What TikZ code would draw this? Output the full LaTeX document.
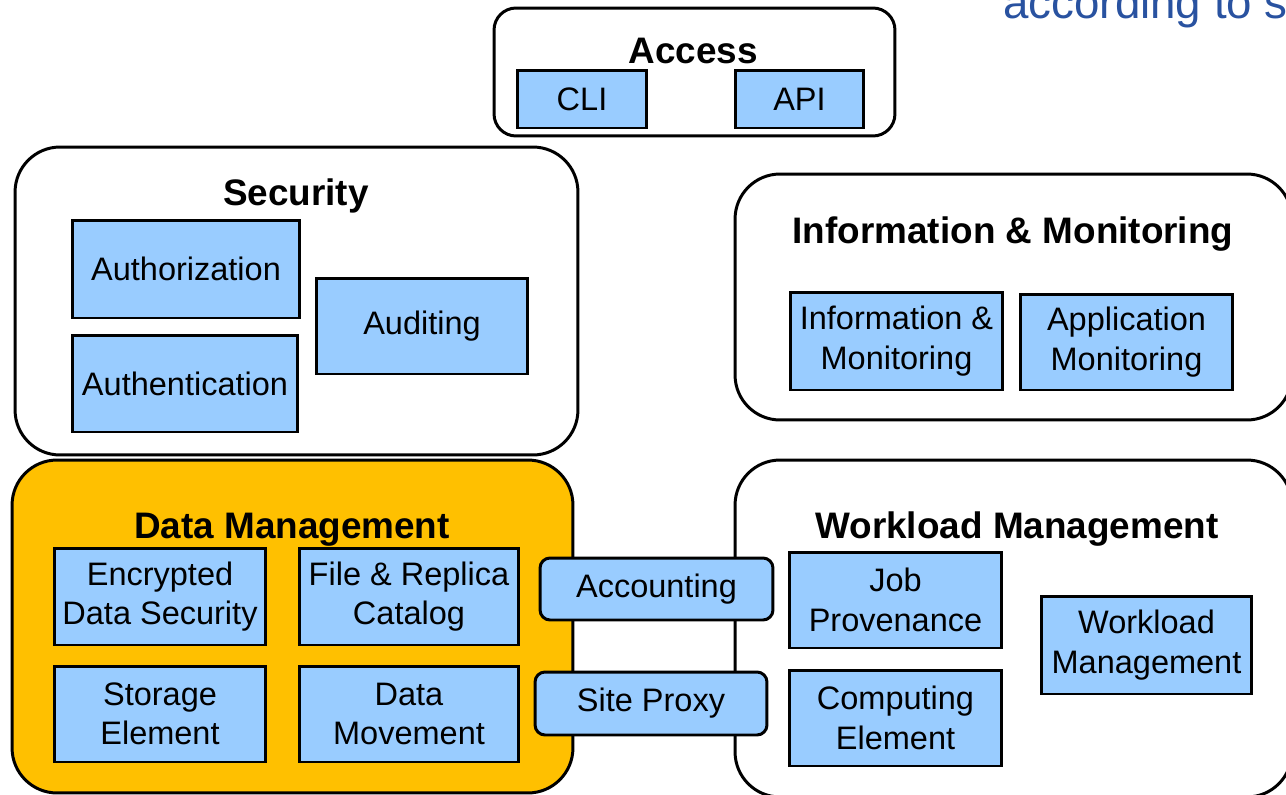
\documentclass[tikz,border=0pt]{standalone}
\usepackage{fontspec}
\setmainfont{Liberation Sans}
\usetikzlibrary{positioning}
\definecolor{boxblue}{RGB}{153,204,255}
\definecolor{dmorange}{RGB}{255,192,0}
\definecolor{slideblue}{RGB}{41,82,160}

\begin{document}
\begin{tikzpicture}[x=0.02cm, y=-0.02cm]
    \tikzstyle{group} = [draw, line width=1.7pt, rounded corners=0.9cm, fill=white]
    \tikzstyle{grouptitle} = [anchor=base, inner sep=0, font=\fontsize{21}{25}\selectfont\bfseries]
    \tikzstyle{comp} = [draw, line width=1.7pt, fill=boxblue, inner sep=0, align=center, font=\fontsize{18.5}{22.5}\selectfont]
    \tikzstyle{link} = [comp, rounded corners=0.2cm]
    \useasboundingbox (0, 0) rectangle (1286, 795);
    \clip (0, 0) rectangle (1286, 795);

    \node[slideblue, anchor=base west, inner sep=0, font=\fontsize{26}{30}\selectfont] (slide) at (1003, 18) {according to s};

    \node[group, rounded corners=0.44cm, minimum width=8.02cm, minimum height=2.56cm] (access) at (694.5, 72) {};
    \node[grouptitle] (accesst) at (693, 63) {Access};
    \node[comp, minimum width=2.6cm, minimum height=1.16cm] (cli) at (582, 99) {CLI};
    \node[comp, minimum width=2.58cm, minimum height=1.16cm] (api) at (799.5, 99) {API};

    \node[group, minimum width=11.26cm, minimum height=6.16cm] (security) at (296.5, 301) {};
    \node[grouptitle] (securityt) at (296, 205) {Security};
    \node[comp, minimum width=4.56cm, minimum height=1.96cm] (authz) at (186, 269) {Authorization};
    \node[comp, minimum width=4.52cm, minimum height=1.94cm] (authn) at (185, 383.5) {Authentication};
    \node[comp, minimum width=4.24cm, minimum height=1.92cm] (audit) at (422, 326) {Auditing};

    \node[group, minimum width=11.14cm, minimum height=4.92cm] (info) at (1013.5, 297) {};
    \node[grouptitle] (infot) at (1013, 243) {Information \& Monitoring};
    \node[comp, minimum width=4.26cm, minimum height=1.96cm] (infmon) at (896.5, 341) {Information \&\\Monitoring};
    \node[comp, minimum width=4.26cm, minimum height=1.92cm] (appmon) at (1126.5, 342) {Application\\Monitoring};

    \node[group, fill=dmorange, minimum width=11.22cm, minimum height=6.66cm] (data) at (292.5, 626.5) {};
    \node[grouptitle] (datat) at (292, 538) {Data Management};
    \node[comp, minimum width=4.24cm, minimum height=1.94cm] (crypt) at (160, 596.5) {Encrypted\\Data Security};
    \node[comp, minimum width=4.4cm, minimum height=1.94cm] (catalog) at (409, 596.5) {File \& Replica\\Catalog};
    \node[comp, minimum width=4.24cm, minimum height=1.92cm] (storage) at (160, 714) {Storage\\Element};
    \node[comp, minimum width=4.4cm, minimum height=1.92cm] (movement) at (409, 714) {Data\\Movement};

    \node[group, minimum width=11.14cm, minimum height=6.74cm] (workload) at (1013.5, 628.5) {};
    \node[grouptitle] (workloadt) at (1017, 538) {Workload Management};
    \node[comp, minimum width=4.26cm, minimum height=1.92cm] (jobprov) at (895.5, 600) {Job\\Provenance};
    \node[comp, minimum width=4.26cm, minimum height=1.92cm] (computing) at (895.5, 718) {Computing\\Element};
    \node[comp, minimum width=4.22cm, minimum height=1.96cm] (wms) at (1146.5, 645) {Workload\\Management};

    \node[link, minimum width=4.66cm, minimum height=1.24cm] (accounting) at (656.5, 589) {Accounting};
    \node[link, minimum width=4.64cm, minimum height=1.26cm] (proxy) at (651, 703.5) {Site Proxy};
\end{tikzpicture}
\end{document}
